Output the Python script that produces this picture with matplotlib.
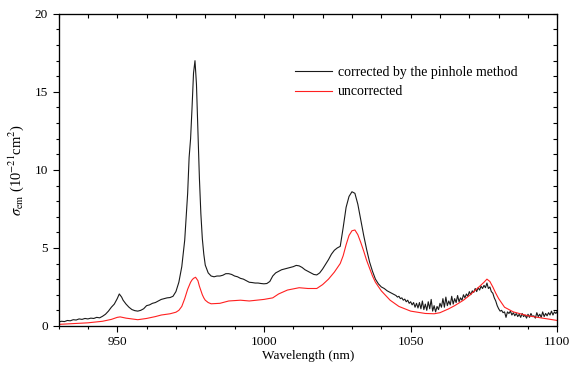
import numpy as np
import matplotlib
matplotlib.use("Agg")
import matplotlib.pyplot as plt
from matplotlib.ticker import MultipleLocator, NullFormatter

plt.rcParams["font.family"] = ["Liberation Serif", "DejaVu Serif"]
plt.rcParams["mathtext.fontset"] = "stix"

# corrected by the pinhole method (black)
wl_corr = [930, 931, 932, 933, 934, 935, 936, 937, 938, 939, 940, 941, 942, 943, 944,
           945, 946, 947, 948, 949, 950, 950.7, 951.5, 952, 953, 954, 955, 956, 957, 958,
           959, 960, 961, 962, 963, 964, 965, 966, 967, 968, 969, 970, 971, 972, 973,
           974, 974.5, 975, 975.5, 976, 976.5, 977, 977.5, 978, 978.5, 979, 979.5, 980,
           981, 982, 983, 984, 985, 986, 987, 988, 989, 990, 991, 992, 993, 994, 995,
           996, 997, 998, 999, 1000, 1001, 1002, 1003, 1004, 1005, 1006, 1007, 1008,
           1009, 1010, 1011, 1012, 1013, 1014, 1015, 1016, 1017, 1018, 1019, 1020, 1021,
           1022, 1023, 1024, 1025, 1026, 1027, 1028, 1029, 1030, 1031, 1032, 1033, 1034,
           1035, 1036, 1037, 1038, 1039, 1040, 1041, 1042, 1043, 1044,
           1045.0, 1045.5, 1046.0, 1046.5, 1047.0, 1047.5, 1048.0, 1048.5, 1049.0, 1049.5,
           1050.0, 1050.5, 1051.0, 1051.5, 1052.0, 1052.5, 1053.0, 1053.5, 1054.0, 1054.5,
           1055.0, 1055.5, 1056.0, 1056.5, 1057.0, 1057.5, 1058.0, 1058.5, 1059.0, 1059.5,
           1060.0, 1060.5, 1061.0, 1061.5, 1062.0, 1062.5, 1063.0, 1063.5, 1064.0, 1064.5,
           1065.0, 1065.5, 1066.0, 1066.5, 1067.0, 1067.5, 1068.0, 1068.5, 1069.0, 1069.5,
           1070.0, 1070.5, 1071.0, 1071.5, 1072.0, 1072.5, 1073.0, 1073.5, 1074.0, 1074.5,
           1075.0, 1075.5, 1076.0, 1076.5, 1077.0, 1077.5, 1078.0, 1078.5, 1079.0, 1079.5,
           1080.0, 1080.5, 1081.0, 1081.5, 1082.0, 1082.5, 1083.0, 1083.5, 1084.0, 1084.5,
           1085.0, 1085.5, 1086.0, 1086.5, 1087.0, 1087.5, 1088.0, 1088.5, 1089.0, 1089.5,
           1090.0, 1090.5, 1091.0, 1091.5, 1092.0, 1092.5, 1093.0, 1093.5, 1094.0, 1094.5,
           1095.0, 1095.5, 1096.0, 1096.5, 1097.0, 1097.5, 1098.0, 1098.5, 1099.0, 1099.5,
           1100.0]
sig_corr = [0.25, 0.3, 0.28, 0.35, 0.33, 0.4, 0.38, 0.45, 0.42, 0.48, 0.45, 0.5, 0.48, 0.55, 0.52,
            0.62, 0.75, 0.95, 1.2, 1.4, 1.75, 2.05, 1.85, 1.65, 1.4, 1.2, 1.05, 0.98, 0.95, 1.0,
            1.1, 1.3, 1.35, 1.45, 1.5, 1.6, 1.7, 1.75, 1.8, 1.82, 1.9, 2.2, 2.8, 3.8, 5.5,
            8.5, 10.8, 12.0, 14.0, 16.2, 17.0, 15.5, 12.5, 9.5, 7.2, 5.6, 4.6, 3.9,
            3.4, 3.2, 3.15, 3.2, 3.2, 3.25, 3.35, 3.35, 3.3, 3.2, 3.15, 3.05, 3.0, 2.9, 2.8,
            2.78, 2.75, 2.75, 2.72, 2.7, 2.72, 2.85, 3.2, 3.4, 3.5, 3.6, 3.65, 3.7,
            3.75, 3.8, 3.88, 3.85, 3.75, 3.6, 3.5, 3.4, 3.3, 3.27, 3.4, 3.65, 3.95,
            4.25, 4.6, 4.85, 5.0, 5.1, 6.3, 7.6, 8.3, 8.6, 8.5, 7.8, 6.8, 5.8,
            4.9, 4.1, 3.5, 3.0, 2.7, 2.5, 2.4, 2.25, 2.15, 2.05,
            1.95, 1.85, 1.9, 1.75, 1.8, 1.65, 1.72, 1.55, 1.65, 1.45,
            1.55, 1.35, 1.5, 1.2, 1.45, 1.15, 1.5, 1.1, 1.6, 1.05,
            1.4, 1.0, 1.55, 1.1, 1.7, 0.95, 1.3, 0.9, 1.25, 1.05,
            1.45, 1.2, 1.75, 1.2, 1.85, 1.3, 1.6, 1.35, 1.9, 1.4,
            1.75, 1.5, 1.95, 1.55, 1.8, 1.65, 2.0, 1.8, 2.05, 1.9,
            2.2, 2.0, 2.25, 2.15, 2.4, 2.2, 2.45, 2.3, 2.55, 2.4,
            2.6, 2.45, 2.75, 2.4, 2.5, 2.2, 2.1, 1.8, 1.6, 1.3,
            1.1, 0.95, 1.0, 0.85, 0.9, 0.55, 0.9, 0.8, 0.95, 0.7,
            0.85, 0.65, 0.8, 0.6, 0.75, 0.55, 0.8, 0.6, 0.7, 0.5,
            0.75, 0.55, 0.8, 0.6, 0.65, 0.5, 0.85, 0.6, 0.75, 0.55,
            0.9, 0.6, 0.8, 0.65, 0.85, 0.7, 0.95, 0.7, 0.9, 0.8,
            0.95]

# uncorrected (red)
wl_unc = [930, 935, 940, 945, 948, 950, 951, 953, 955, 957, 960, 963, 965, 968, 970,
          971, 972, 973, 974, 975, 975.5, 976, 976.7, 977.5, 978, 979, 979.5, 980, 981,
          982, 985, 988, 992, 995, 1000, 1003, 1005, 1008, 1012, 1015, 1018, 1020, 1022,
          1024, 1026, 1027, 1028, 1029, 1030, 1031, 1032, 1033, 1034, 1035, 1036, 1037,
          1038, 1040, 1043, 1046, 1050, 1055, 1058, 1060, 1063, 1065, 1068, 1070, 1073,
          1075, 1076, 1077, 1078, 1079, 1080, 1082, 1085, 1090, 1095, 1100]
sig_unc = [0.1, 0.15, 0.2, 0.3, 0.42, 0.55, 0.58, 0.5, 0.45, 0.4, 0.48, 0.6, 0.7, 0.78, 0.88,
           1.0, 1.25, 1.75, 2.35, 2.8, 2.95, 3.05, 3.12, 2.9, 2.55, 2.0, 1.8, 1.65, 1.5,
           1.42, 1.45, 1.6, 1.65, 1.6, 1.7, 1.8, 2.05, 2.3, 2.45, 2.4, 2.4, 2.65, 3.0,
           3.45, 4.0, 4.5, 5.2, 5.8, 6.1, 6.15, 5.85, 5.35, 4.8, 4.2, 3.7, 3.2,
           2.8, 2.25, 1.65, 1.25, 0.95, 0.8, 0.78, 0.85, 1.1, 1.3, 1.65, 1.95, 2.45,
           2.8, 3.0, 2.85, 2.5, 2.1, 1.75, 1.2, 0.9, 0.65, 0.5, 0.35]

fig = plt.figure(figsize=(5.74, 3.65), dpi=100)
ax = fig.add_axes([0.102, 0.107, 0.869, 0.855])

ax.plot(wl_corr, sig_corr, color="#1a1a1a", lw=0.8, label="corrected by the pinhole method")
ax.plot(wl_unc, sig_unc, color="#ff2020", lw=0.8, label="uncorrected")

ax.set_xlim(930, 1100)
ax.set_ylim(0, 20)
ax.xaxis.set_major_locator(MultipleLocator(50))
ax.xaxis.set_minor_locator(MultipleLocator(10))
ax.yaxis.set_major_locator(MultipleLocator(5))
ax.yaxis.set_minor_locator(MultipleLocator(1))

ax.tick_params(which="both", direction="out", top=False, right=False, labelsize=9.5, width=0.8)
ax.tick_params(which="major", length=4)
ax.tick_params(which="minor", length=2.5)

# mirrored inward ticks on top and right, no labels
ax2 = ax.twiny()
ax2.set_xlim(ax.get_xlim())
ax2.xaxis.set_major_locator(MultipleLocator(10))
ax2.xaxis.set_major_formatter(NullFormatter())
ax2.tick_params(direction="in", length=3, width=0.8)
ax3 = ax.twinx()
ax3.set_ylim(ax.get_ylim())
ax3.yaxis.set_major_locator(MultipleLocator(1))
ax3.yaxis.set_major_formatter(NullFormatter())
ax3.tick_params(direction="in", length=3, width=0.8)

for a in (ax, ax2, ax3):
    for s in a.spines.values():
        s.set_linewidth(0.8)

ax.set_xlabel("Wavelength (nm)", fontsize=9.5, labelpad=1)
ax.set_ylabel(r"$\sigma_{\rm em}$ (10$^{-21}$cm$^{2}$)", fontsize=10.5, labelpad=6)

ax.legend(loc="upper left", bbox_to_anchor=(0.462, 0.85), frameon=False, fontsize=10,
          handlelength=2.7, handletextpad=0.4, labelspacing=0.45, borderaxespad=0)

fig.savefig("out.png", dpi=100)
